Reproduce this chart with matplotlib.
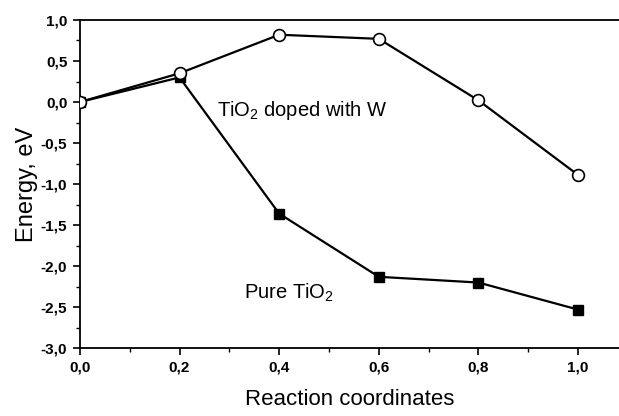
import numpy as np
import matplotlib
matplotlib.use('Agg')
import matplotlib.pyplot as plt
from matplotlib.ticker import MultipleLocator, FuncFormatter

plt.rcParams['font.family'] = ['Liberation Sans', 'DejaVu Sans']

# reaction coordinate
x = [0.0, 0.2, 0.4, 0.6, 0.8, 1.0]
# energies, eV
e_doped = [0.0, 0.35, 0.82, 0.77, 0.02, -0.89]
e_pure = [0.0, 0.30, -1.36, -2.13, -2.20, -2.53]

fig = plt.figure(figsize=(6.19, 4.16), dpi=100)
ax = fig.add_axes([0.129, 0.163, 0.871, 0.789])

ax.plot(x, e_pure, color='black', lw=1.6, marker='s', ms=7.5,
        mfc='black', mec='black', zorder=3)
ax.plot(x, e_doped, color='black', lw=1.6, marker='o', ms=8.5,
        mfc='white', mec='black', mew=1.2, zorder=4)

ax.text(0.276, -0.1, 'TiO$_\\mathregular{2}$ doped with W', fontsize=14.5, va='center')
ax.text(0.33, -2.33, 'Pure TiO$_\\mathregular{2}$', fontsize=14.5, va='center')

ax.set_xlim(0, 1.082)
ax.set_ylim(-3.0, 1.0)
ax.xaxis.set_major_locator(MultipleLocator(0.2))
ax.xaxis.set_minor_locator(MultipleLocator(0.1))
ax.yaxis.set_major_locator(MultipleLocator(0.5))
ax.yaxis.set_minor_locator(MultipleLocator(0.25))
comma = FuncFormatter(lambda v, p: ('%.1f' % v).replace('.', ','))
ax.xaxis.set_major_formatter(comma)
ax.yaxis.set_major_formatter(comma)

ax.spines['right'].set_visible(False)
for s in ['left', 'top', 'bottom']:
    ax.spines[s].set_linewidth(1.3)
ax.tick_params(which='major', direction='out', length=5, width=1.2,
               labelsize=11, pad=4, top=False, right=False)
ax.tick_params(which='minor', direction='out', length=3, width=1.0,
               top=False, right=False)
for lab in ax.get_xticklabels() + ax.get_yticklabels():
    lab.set_fontweight('bold')

ax.set_xlabel('Reaction coordinates', fontsize=16, labelpad=10)
ax.set_ylabel('Energy, eV', fontsize=17, labelpad=2)

fig.savefig('out.png', dpi=100)
